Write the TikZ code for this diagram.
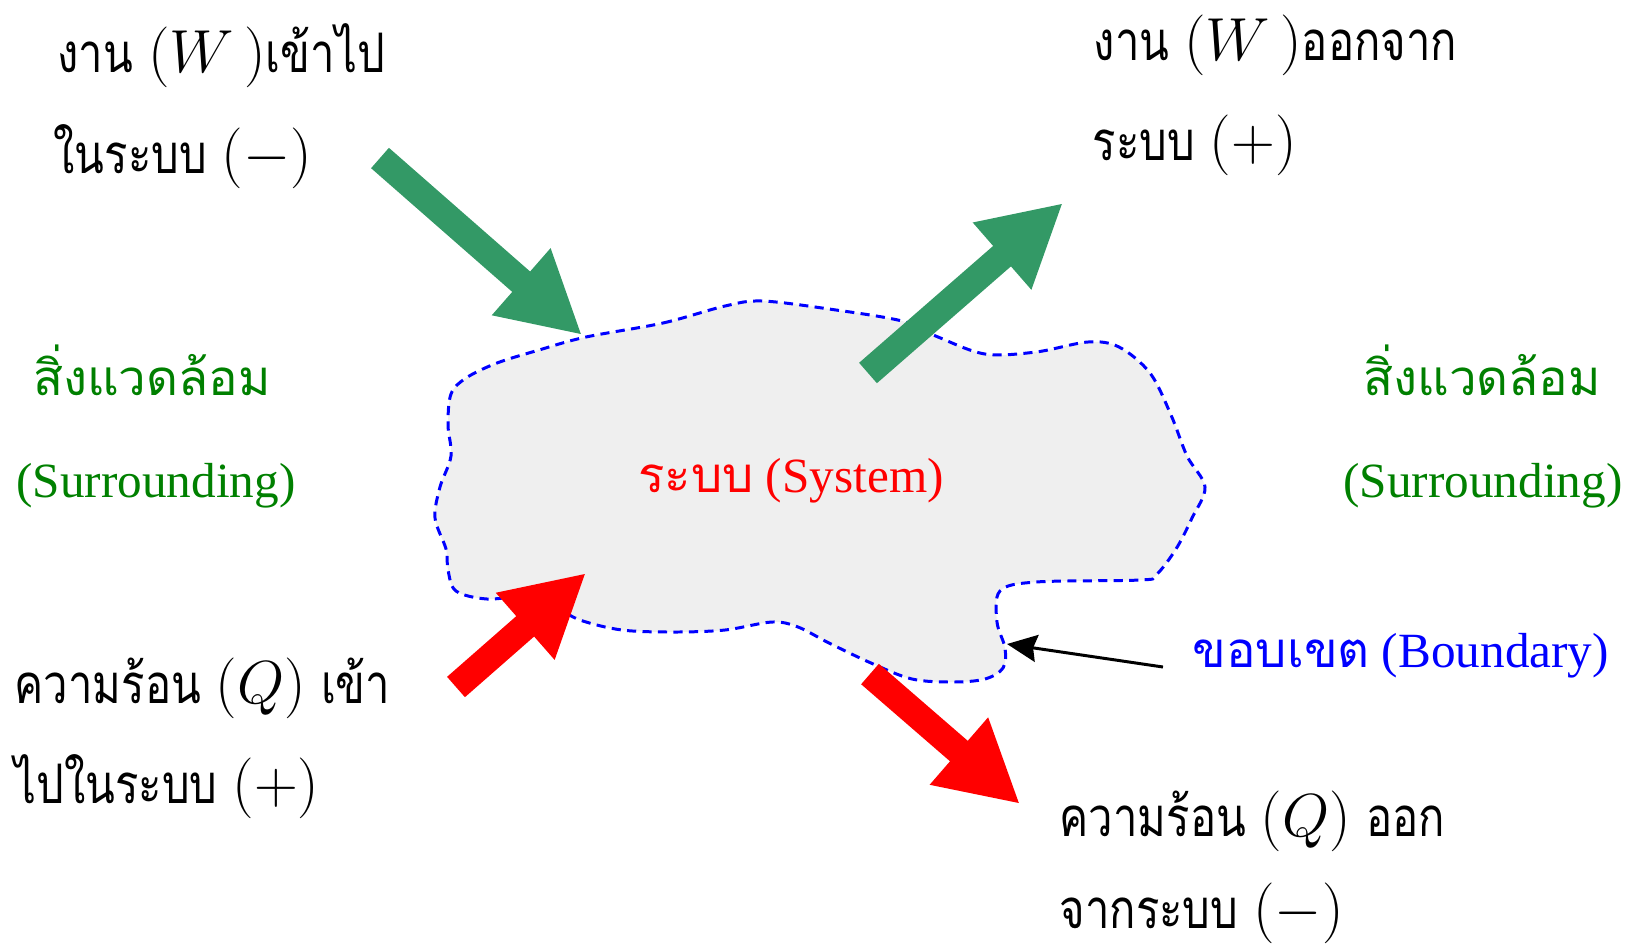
\documentclass[tikz,border=0pt]{standalone}
\usepackage{fontspec}
\setmainfont{Liberation Serif}
\newfontfamily\thaifont[Script=Thai]{Loma}
\newfontfamily\thainarrow[Script=Thai,FakeStretch=0.8]{Loma}
\usetikzlibrary{positioning}
\usetikzlibrary{arrows.meta}

\definecolor{workgreen}{RGB}{51,153,102}
\definecolor{envgreen}{RGB}{0,128,0}
\definecolor{sysgray}{RGB}{239,239,239}

\newcommand{\thai}[1]{{\thaifont #1}}
\newcommand{\bigthai}[1]{{\fontsize{15.5}{18}\thainarrow #1}}

\begin{document}
\begin{tikzpicture}[x=0.01cm,y=-0.01cm,
  bigtxt/.style={anchor=base west,inner sep=0pt,font=\fontsize{17}{20}\selectfont},
  smalltxt/.style={anchor=base,inner sep=0pt,font=\fontsize{14}{17}\selectfont},
  fatarrow/.style={line width=7.7pt,-{Triangle[length=23pt,width=23.6pt]}}]
\useasboundingbox (0,0) rectangle (1625,951);

% the system and its boundary
\draw[blue,line width=0.85pt,dash pattern=on 2.6pt off 1.8pt,fill=sysgray]
  plot[smooth cycle,tension=0.55] coordinates {
    (586,337) (663,323) (725,306) (762,301) (829,309) (902,321) (938,337)
    (985,354) (1036,352) (1088,342) (1119,347) (1150,373) (1171,415)
    (1187,456) (1205,487) (1192,518) (1176,549) (1156,575) (1140,580)
    (1036,582) (1000,591) (997,622) (1005,648) (1003,668) (985,679)
    (953,682) (912,679) (871,663) (829,643) (798,627) (772,622) (725,630)
    (674,632) (622,630) (580,620) (554,606) (529,596) (487,599) (456,591)
    (448,570) (446,549) (435,518) (440,487) (451,456) (448,425) (451,394)
    (466,378) (497,363) (539,350)};

\node[smalltxt,text=red] (sys) at (791,492) {\thai{ระบบ} (System)};

% surroundings
\node[smalltxt,text=envgreen] (envL) at (152,395) {\thai{สิ่งแวดล้อม}};
\node[smalltxt,text=envgreen] (envLen) at (156,497) {(Surrounding)};
\node[smalltxt,text=envgreen] (envR) at (1482,395) {\thai{สิ่งแวดล้อม}};
\node[smalltxt,text=envgreen] (envRen) at (1483,497) {(Surrounding)};

% boundary label
\node[smalltxt,anchor=base west,text=blue] (bnd) at (1192,667) {\thai{ขอบเขต} (Boundary)};
\coordinate (bndtail) at (1163,667);
\coordinate (bndtip) at (1007,644);
\draw[line width=0.85pt,-{Stealth[length=8.5pt,width=7.7pt,inset=1pt]}] (bndtail) -- (bndtip);

% work
\node[bigtxt] (winA) at (57,72) {\bigthai{งาน} $(W\,)$\bigthai{เข้าไป}};
\node[bigtxt] (winB) at (53,173) {\bigthai{ในระบบ} $(-)$};
\node[bigtxt] (woutA) at (1093,60) {\bigthai{งาน} $(W\,)$\bigthai{ออกจาก}};
\node[bigtxt] (woutB) at (1092,160) {\bigthai{ระบบ} $(+)$};

% heat
\node[bigtxt] (qinA) at (14,703) {\bigthai{ความร้อน} $(Q)$ \bigthai{เข้า}};
\node[bigtxt] (qinB) at (14,803) {\bigthai{ไปในระบบ} $(+)$};
\node[bigtxt] (qoutA) at (1059,836) {\bigthai{ความร้อน} $(Q)$ \bigthai{ออก}};
\node[bigtxt] (qoutB) at (1059,928) {\bigthai{จากระบบ} $(-)$};

% fat arrows in and out
\coordinate (winT) at (380,158);
\coordinate (winH) at (582,335);
\coordinate (woutT) at (868,373);
\coordinate (woutH) at (1063,203);
\coordinate (qinT) at (456,687);
\coordinate (qinH) at (586,573);
\coordinate (qoutT) at (870,674);
\coordinate (qoutH) at (1020,804);
\draw[fatarrow,workgreen] (winT) -- (winH);
\draw[fatarrow,workgreen] (woutT) -- (woutH);
\draw[fatarrow,red] (qinT) -- (qinH);
\draw[fatarrow,red] (qoutT) -- (qoutH);
\end{tikzpicture}
\end{document}
